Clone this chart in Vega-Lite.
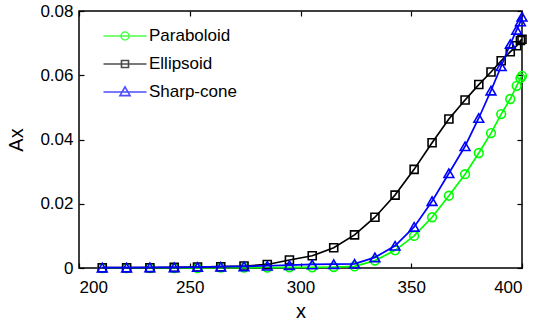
{
  "$schema": "https://vega.github.io/schema/vega-lite/v6.json",
  "width": 443,
  "height": 257,
  "autosize": {"type": "none"},
  "padding": {"left": 79, "top": 11, "right": 12, "bottom": 56},
  "background": "white",
  "data": {"values": [
    {"series": "Paraboloid", "x": 210.5, "y": 0.0},
    {"series": "Paraboloid", "x": 221.5, "y": 0.0},
    {"series": "Paraboloid", "x": 232, "y": 0.0},
    {"series": "Paraboloid", "x": 243, "y": 0.0},
    {"series": "Paraboloid", "x": 253.5, "y": 0.0},
    {"series": "Paraboloid", "x": 264, "y": 0.0001},
    {"series": "Paraboloid", "x": 274.5, "y": 0.0001},
    {"series": "Paraboloid", "x": 285, "y": 0.0001},
    {"series": "Paraboloid", "x": 295, "y": 0.0002},
    {"series": "Paraboloid", "x": 305.3, "y": 0.0002},
    {"series": "Paraboloid", "x": 315, "y": 0.0003},
    {"series": "Paraboloid", "x": 324.4, "y": 0.0005},
    {"series": "Paraboloid", "x": 333.6, "y": 0.0023},
    {"series": "Paraboloid", "x": 342.7, "y": 0.0055},
    {"series": "Paraboloid", "x": 351.3, "y": 0.0100},
    {"series": "Paraboloid", "x": 359.4, "y": 0.0158},
    {"series": "Paraboloid", "x": 367, "y": 0.0225},
    {"series": "Paraboloid", "x": 374.3, "y": 0.0292},
    {"series": "Paraboloid", "x": 380.5, "y": 0.0358},
    {"series": "Paraboloid", "x": 386, "y": 0.0420},
    {"series": "Paraboloid", "x": 390.6, "y": 0.0479},
    {"series": "Paraboloid", "x": 394.7, "y": 0.0526},
    {"series": "Paraboloid", "x": 397.6, "y": 0.0567},
    {"series": "Paraboloid", "x": 399.3, "y": 0.0591},
    {"series": "Paraboloid", "x": 400, "y": 0.0598},
    {"series": "Ellipsoid", "x": 210.5, "y": 0.0001},
    {"series": "Ellipsoid", "x": 221.5, "y": 0.0001},
    {"series": "Ellipsoid", "x": 232, "y": 0.0001},
    {"series": "Ellipsoid", "x": 243, "y": 0.0002},
    {"series": "Ellipsoid", "x": 253.5, "y": 0.0003},
    {"series": "Ellipsoid", "x": 264, "y": 0.0004},
    {"series": "Ellipsoid", "x": 274.5, "y": 0.0006},
    {"series": "Ellipsoid", "x": 285, "y": 0.0011},
    {"series": "Ellipsoid", "x": 295, "y": 0.0025},
    {"series": "Ellipsoid", "x": 305.3, "y": 0.0038},
    {"series": "Ellipsoid", "x": 315, "y": 0.0063},
    {"series": "Ellipsoid", "x": 324.4, "y": 0.0103},
    {"series": "Ellipsoid", "x": 333.6, "y": 0.0158},
    {"series": "Ellipsoid", "x": 342.7, "y": 0.0227},
    {"series": "Ellipsoid", "x": 351.3, "y": 0.0307},
    {"series": "Ellipsoid", "x": 359.4, "y": 0.0390},
    {"series": "Ellipsoid", "x": 367, "y": 0.0464},
    {"series": "Ellipsoid", "x": 374.3, "y": 0.0523},
    {"series": "Ellipsoid", "x": 380.5, "y": 0.0571},
    {"series": "Ellipsoid", "x": 386, "y": 0.0610},
    {"series": "Ellipsoid", "x": 390.6, "y": 0.0645},
    {"series": "Ellipsoid", "x": 394.7, "y": 0.0673},
    {"series": "Ellipsoid", "x": 397.6, "y": 0.0692},
    {"series": "Ellipsoid", "x": 399.3, "y": 0.0708},
    {"series": "Ellipsoid", "x": 400, "y": 0.0712},
    {"series": "Sharp-cone", "x": 210.5, "y": 0.0001},
    {"series": "Sharp-cone", "x": 221.5, "y": 0.0001},
    {"series": "Sharp-cone", "x": 232, "y": 0.0002},
    {"series": "Sharp-cone", "x": 243, "y": 0.0002},
    {"series": "Sharp-cone", "x": 253.5, "y": 0.0003},
    {"series": "Sharp-cone", "x": 264, "y": 0.0004},
    {"series": "Sharp-cone", "x": 274.5, "y": 0.0005},
    {"series": "Sharp-cone", "x": 285, "y": 0.0007},
    {"series": "Sharp-cone", "x": 295, "y": 0.0009},
    {"series": "Sharp-cone", "x": 305.3, "y": 0.0011},
    {"series": "Sharp-cone", "x": 315, "y": 0.0012},
    {"series": "Sharp-cone", "x": 324.4, "y": 0.0013},
    {"series": "Sharp-cone", "x": 333.6, "y": 0.0033},
    {"series": "Sharp-cone", "x": 342.7, "y": 0.0069},
    {"series": "Sharp-cone", "x": 351.3, "y": 0.0128},
    {"series": "Sharp-cone", "x": 359.4, "y": 0.0208},
    {"series": "Sharp-cone", "x": 367, "y": 0.0295},
    {"series": "Sharp-cone", "x": 374.3, "y": 0.0379},
    {"series": "Sharp-cone", "x": 380.5, "y": 0.0467},
    {"series": "Sharp-cone", "x": 386, "y": 0.0552},
    {"series": "Sharp-cone", "x": 390.6, "y": 0.0628},
    {"series": "Sharp-cone", "x": 394.7, "y": 0.0697},
    {"series": "Sharp-cone", "x": 397.6, "y": 0.0741},
    {"series": "Sharp-cone", "x": 399.3, "y": 0.0767},
    {"series": "Sharp-cone", "x": 400, "y": 0.0782}
  ]},
  "layer": [
    {
      "transform": [{"filter": "datum.series === 'Paraboloid'"}],
      "mark": {"type": "line", "color": "#00ff00", "strokeWidth": 1.7},
      "encoding": {
        "x": {"field": "x", "type": "quantitative", "scale": {"domain": [200, 400], "nice": false, "zero": false},
              "axis": {"orient": "bottom", "title": "x", "values": [200, 250, 300, 350, 400], "labelPadding": 16, "titlePadding": 6}},
        "y": {"field": "y", "type": "quantitative", "scale": {"domain": [0, 0.08], "nice": false},
              "axis": {"orient": "left", "title": "Ax", "values": [0, 0.02, 0.04, 0.06, 0.08], "labelExpr": "datum.value == 0 ? '0' : format(datum.value, '.2f')", "labelPadding": 11, "titlePadding": 13}}
      }
    },
    {
      "transform": [{"filter": "datum.series === 'Paraboloid'"}],
      "mark": {"type": "point", "shape": "circle", "filled": false, "color": "#00ff00", "strokeWidth": 1.6, "size": 76, "opacity": 1},
      "encoding": {
        "x": {"field": "x", "type": "quantitative", "axis": {"orient": "top", "title": null, "labels": false, "values": [200, 250, 300, 350, 400]}},
        "y": {"field": "y", "type": "quantitative", "axis": {"orient": "right", "title": null, "labels": false, "values": [0, 0.02, 0.04, 0.06, 0.08]}}
      }
    },
    {
      "transform": [{"filter": "datum.series === 'Ellipsoid'"}],
      "mark": {"type": "line", "color": "#000000", "strokeWidth": 1.7},
      "encoding": {
        "x": {"field": "x", "type": "quantitative", "axis": null},
        "y": {"field": "y", "type": "quantitative", "axis": null}
      }
    },
    {
      "transform": [{"filter": "datum.series === 'Ellipsoid'"}],
      "mark": {"type": "point", "shape": "square", "filled": false, "color": "#000000", "strokeWidth": 1.6, "size": 64, "opacity": 1},
      "encoding": {
        "x": {"field": "x", "type": "quantitative", "axis": null},
        "y": {"field": "y", "type": "quantitative", "axis": null}
      }
    },
    {
      "transform": [{"filter": "datum.series === 'Sharp-cone'"}],
      "mark": {"type": "line", "color": "#0000ff", "strokeWidth": 1.7},
      "encoding": {
        "x": {"field": "x", "type": "quantitative", "axis": null},
        "y": {"field": "y", "type": "quantitative", "axis": null}
      }
    },
    {
      "transform": [{"filter": "datum.series === 'Sharp-cone'"}],
      "mark": {"type": "point", "shape": "triangle-up", "filled": false, "color": "#0000ff", "strokeWidth": 1.6, "size": 95, "opacity": 1},
      "encoding": {
        "x": {"field": "x", "type": "quantitative", "axis": null},
        "y": {"field": "y", "type": "quantitative", "axis": null}
      }
    },
    {
      "transform": [{"filter": "false"}],
      "mark": {"type": "point", "filled": false, "strokeWidth": 1.6},
      "encoding": {
        "color": {"field": "series", "type": "nominal",
                  "scale": {"domain": ["Paraboloid", "Ellipsoid", "Sharp-cone"], "range": ["#00ff00", "#000000", "#0000ff"]},
                  "legend": {"orient": "none", "legendX": 36, "legendY": 15, "title": null, "padding": 0}},
        "shape": {"field": "series", "type": "nominal",
                  "scale": {"domain": ["Paraboloid", "Ellipsoid", "Sharp-cone"],
                            "range": ["M-2.39,0H2.39M0.44,0A0.44,0.44,0,1,1,-0.44,0A0.44,0.44,0,1,1,0.44,0",
                                      "M-2.39,0H2.39M-0.39,-0.39H0.39V0.39H-0.39Z",
                                      "M-2.39,0H2.39M0,-0.56L0.56,0.4H-0.56Z"]},
                  "legend": {"orient": "none", "legendX": 36, "legendY": 15, "title": null, "padding": 0}}
      }
    }
  ],
  "resolve": {"axis": {"x": "independent", "y": "independent"}},
  "config": {
    "font": "Liberation Sans",
    "view": {"stroke": "#000000", "strokeWidth": 1.5},
    "axis": {"grid": false, "domain": false, "ticks": true, "tickColor": "#000000", "tickWidth": 1.2, "tickSize": -5,
             "labelFont": "Liberation Sans", "labelFontSize": 17, "labelColor": "#000000",
             "titleFont": "Liberation Sans", "titleFontSize": 20, "titleFontWeight": "normal", "titleColor": "#000000"},
    "legend": {"labelFont": "Liberation Sans", "labelFontSize": 17, "labelColor": "#000000", "symbolSize": 324,
               "symbolStrokeWidth": 1.6, "labelOffset": 14, "rowPadding": 10, "symbolType": "stroke"}
  }
}
